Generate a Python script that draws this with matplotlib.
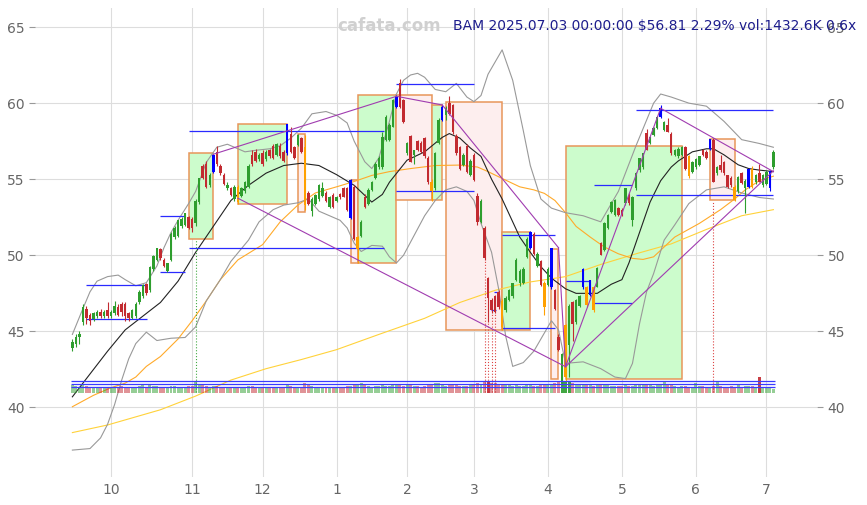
import numpy as np
import matplotlib
matplotlib.use('Agg')
import matplotlib.pyplot as plt
from matplotlib.patches import Rectangle

# BAM daily bars 2024-09-16 .. 2025-07-03, x axis = bar number
opens = [43.9, 44.2, 44.6, 45.6, 46.5, 46.1, 45.8, 46.0, 46.3, 46.0, 46.4,
         46.0, 46.2, 46.6, 46.8, 46.8, 46.2, 45.9, 46.0, 46.9, 47.3, 48.1, 47.7, 49.1, 49.7, 50.4, 49.7, 48.95, 49.7, 51.2, 51.3, 51.9, 52.0, 52.5,
         52.4, 52.1, 53.5, 55.9, 56.0, 54.6, 55.5, 56.8, 55.9, 55.3, 54.4, 54.4, 53.7, 54.5, 53.9, 54.2, 54.5, 56.6, 56.8, 56.3,
         56.7, 56.3, 56.9, 57.2, 56.6, 57.2, 56.8, 56.7, 58.0, 57.1, 57.25, 57.7, 57.1, 54.07, 52.9, 53.4, 53.7, 53.9, 54.07, 53.2, 53.96,
         53.6, 54.0, 54.4, 54.4, 52.45, 54.5, 50.4, 51.3, 53.85, 53.4, 54.3, 55.06, 55.8, 55.8, 57.6, 57.6, 58.45, 59.76, 61.3, 60.2,
         56.7, 57.85, 56.6, 57.5, 57.4, 57.7, 56.37, 54.84, 54.4, 57.4, 58.9, 59.2, 60.0, 59.88, 57.85, 57.1, 55.95, 57.2, 55.3,
         56.6, 53.9, 52.2, 51.77, 48.5, 47.06, 47.3, 47.6, 47.0, 46.4, 47.06, 47.3, 48.4, 48.16, 48.16, 49.9, 50.5, 51.4, 49.3, 49.6, 48.2,
         48.05, 47.9, 47.7, 44.65, 41.6, 42.0, 44.1, 46.95, 45.6, 46.7, 47.9, 47.94, 47.4, 47.94, 47.94, 50.8, 50.35, 51.77, 52.87, 52.65, 53.08,
         52.98, 53.41, 53.96, 52.32, 54.4, 55.6, 55.82, 58.01, 57.36, 57.9, 58.34, 59.1, 58.23, 58.56, 58.0, 56.6, 56.5, 56.6, 57.1, 56.5, 55.5,
         55.8, 55.93, 56.9, 56.8, 56.96, 57.6, 55.4, 55.93, 56.15, 55.28, 55.1, 54.5, 54.2, 55.39, 54.4, 54.5, 55.7, 54.8, 55.4, 54.6,
         54.7, 54.4, 55.8]
highs = [44.5, 44.8, 45.0, 46.8, 46.7, 46.2, 46.3, 46.4, 46.5, 46.4, 46.9,
         46.4, 47.0, 46.8, 46.9, 46.9, 46.3, 46.5, 46.9, 47.7, 48.1, 48.2, 49.3, 50.0, 50.5, 50.5, 49.8, 49.5, 51.5, 51.9, 52.3, 52.5, 52.8, 52.6,
         52.5, 53.7, 55.1, 56.0, 56.2, 55.4, 56.65, 57.2, 56.0, 55.4, 54.8, 54.5, 54.6, 54.6, 54.5, 54.9, 56.0, 56.9, 57.0, 56.7,
         56.9, 56.9, 57.0, 57.3, 57.4, 57.4, 56.9, 58.65, 58.4, 57.2, 58.0, 57.8, 57.9, 54.2, 53.8, 54.0, 54.7, 54.8, 54.2, 53.9, 54.1,
         53.9, 54.1, 54.5, 54.5, 55.0, 54.6, 51.3, 52.3, 54.0, 54.4, 54.9, 56.1, 56.5, 58.1, 59.2, 58.7, 60.3, 60.55, 61.6, 60.3,
         57.45, 57.9, 56.95, 57.6, 57.5, 57.8, 56.5, 55.0, 56.8, 59.0, 59.9, 59.8, 60.5, 59.95, 57.95, 57.2, 56.7, 57.3, 56.3,
         56.7, 54.1, 53.7, 51.9, 48.6, 47.2, 47.4, 47.7, 47.1, 47.3, 47.8, 48.2, 49.8, 49.1, 49.2, 51.2, 51.6, 51.5, 50.2, 49.7, 48.3,
         49.2, 50.5, 47.8, 44.8, 43.6, 45.5, 46.8, 47.0, 47.1, 47.4, 49.15, 48.0, 48.4, 48.0, 49.2, 50.9, 52.2, 52.7, 53.6, 53.7, 53.2,
         53.1, 54.45, 54.1, 53.9, 55.45, 56.4, 56.75, 58.3, 57.85, 58.4, 59.15, 59.85, 58.85, 59.0, 58.1, 57.0, 57.1, 57.2, 57.2, 56.6, 56.2,
         56.4, 56.55, 57.0, 56.9, 57.65, 57.7, 55.9, 56.6, 56.2, 55.3, 55.2, 54.6, 55.2, 55.5, 55.0, 55.75, 55.9, 55.35, 56.0, 55.35,
         55.6, 55.6, 56.9]
lows = [43.7, 44.0, 44.2, 45.4, 45.5, 45.4, 45.7, 45.9, 45.9, 45.9, 45.9,
        45.9, 46.1, 46.0, 46.0, 45.7, 45.7, 45.8, 45.9, 46.8, 47.2, 47.4, 47.6, 49.0, 49.6, 49.7, 49.2, 48.9, 49.6, 51.1, 51.2, 51.8, 51.9, 51.7,
        51.5, 51.9, 53.4, 55.0, 54.4, 54.5, 55.4, 55.9, 55.3, 54.6, 54.3, 53.9, 53.6, 53.4, 53.8, 54.1, 54.4, 55.9, 56.1, 56.2,
        55.9, 56.2, 56.4, 56.3, 56.5, 56.4, 56.1, 56.6, 56.7, 56.3, 57.2, 56.7, 53.0, 53.3, 52.6, 53.3, 53.6, 53.8, 53.5, 53.1, 53.1,
        53.5, 53.7, 53.8, 52.9, 52.4, 51.0, 49.5, 51.2, 53.1, 53.3, 54.2, 55.0, 55.7, 55.7, 57.5, 57.5, 58.4, 59.7, 59.7, 58.7,
        56.6, 56.1, 56.0, 56.85, 56.7, 56.4, 54.7, 53.6, 54.3, 57.3, 58.85, 58.9, 59.2, 58.0, 56.6, 55.6, 55.9, 55.4, 55.2,
        54.9, 52.0, 52.1, 49.7, 45.6, 46.2, 46.2, 46.5, 45.1, 46.3, 47.0, 47.2, 48.3, 48.0, 48.1, 49.8, 50.4, 50.0, 49.2, 48.0, 46.1,
        48.0, 47.8, 46.4, 43.7, 41.4, 41.7, 42.0, 44.4, 45.5, 46.6, 47.8, 46.6, 47.3, 46.3, 47.9, 50.0, 50.3, 51.7, 52.8, 52.6, 52.6,
        52.6, 53.3, 53.3, 51.9, 54.3, 55.5, 55.7, 56.9, 57.3, 57.85, 58.3, 59.0, 58.2, 58.1, 56.6, 56.5, 56.4, 56.5, 55.6, 55.1, 55.4,
        55.7, 55.9, 56.5, 56.3, 56.9, 54.8, 55.3, 55.5, 55.3, 54.4, 54.5, 53.6, 54.1, 54.7, 52.8, 54.4, 54.4, 54.7, 54.8, 54.5,
        54.6, 54.2, 55.7]
closes = [44.3, 44.6, 44.8, 46.6, 45.9, 45.7, 46.2, 46.3, 46.0, 46.3, 46.0,
          46.3, 46.7, 46.1, 46.3, 46.0, 45.9, 46.4, 46.8, 47.6, 48.05, 47.5, 49.25, 49.95, 50.45, 49.8, 49.3, 49.5, 51.4, 51.8, 52.3, 52.4, 52.75, 51.8,
          51.8, 53.6, 55.05, 55.1, 54.5, 55.3, 56.6, 56.0, 55.4, 54.7, 54.65, 53.95, 54.5, 53.5, 54.4, 54.85, 55.9, 56.0, 56.2, 56.6,
          56.0, 56.8, 56.5, 56.4, 57.3, 56.5, 56.2, 58.6, 56.8, 56.4, 57.9, 56.8, 53.3, 53.4, 53.7, 53.95, 54.6, 54.4, 53.6, 53.85, 53.2,
          53.8, 53.8, 53.85, 52.97, 54.95, 51.1, 51.2, 52.2, 53.2, 54.3, 54.84, 56.0, 56.37, 57.8, 59.1, 58.56, 60.2, 60.5, 59.76, 58.78,
          57.4, 56.15, 56.9, 56.92, 56.8, 56.5, 54.8, 54.2, 56.7, 58.9, 59.76, 59.7, 59.3, 58.1, 56.7, 55.7, 56.6, 55.5, 56.2,
          54.95, 52.2, 53.6, 49.8, 47.2, 46.4, 46.3, 46.6, 45.3, 47.2, 47.7, 48.16, 49.7, 49.0, 49.1, 51.1, 51.55, 50.1, 50.1, 48.05, 46.6,
          49.1, 50.46, 46.5, 43.8, 43.5, 45.4, 46.7, 45.5, 47.06, 47.3, 49.1, 46.74, 48.38, 46.4, 49.14, 50.02, 52.1, 52.65, 53.52, 53.63, 52.65,
          52.65, 54.4, 53.41, 53.85, 55.39, 56.37, 56.7, 56.92, 57.8, 58.34, 59.1, 59.66, 58.78, 58.12, 56.7, 56.9, 57.0, 57.1, 55.7, 55.2, 56.15,
          56.3, 56.5, 56.6, 56.4, 57.62, 54.85, 55.82, 55.6, 55.4, 54.5, 54.6, 53.65, 55.17, 54.73, 54.9, 55.7, 54.5, 55.3, 54.85, 55.3,
          55.5, 55.54, 56.81]
# volume in thousands
volumes = [3100, 2700, 2400, 3600, 2800, 2300, 2200, 2000, 2400, 2100, 2600,
           2300, 2500, 2200, 2700, 2400, 2100, 2000, 2500, 2800, 3100, 2400, 3300, 2900, 2700, 2400, 2200, 2300, 3000, 2800, 2600, 2400, 2500, 2700,
           2900, 4700, 3800, 3200, 3000, 2500, 2800, 2700, 2400, 2300, 2200, 2500, 2400, 2600, 2300, 2500, 2900, 2700, 2500, 2300,
           2400, 2200, 2100, 2300, 2200, 2500, 2300, 3100, 2800, 2400, 2200, 2500, 4000, 3300, 2900, 2300, 2100, 2000, 1900, 2400, 2200,
           2300, 2400, 2600, 2800, 2900, 3500, 3300, 4200, 3100, 2800, 2600, 2900, 2800, 3100, 3000, 2700, 3200, 3700, 3400, 3000,
           3300, 3100, 2900, 2700, 2600, 2800, 3100, 3500, 4300, 3900, 3400, 3000, 3200, 3300, 3100, 2900, 3000, 2800, 3200,
           3400, 4000, 3300, 4700, 5000, 4300, 4000, 3700, 3500, 3200, 3100, 2900, 3300, 3000, 2800, 3100, 3400, 3000, 2900, 3100, 3600,
           3200, 3500, 4100, 4600, 4900, 4800, 5000, 4100, 3500, 3300, 3200, 3100, 3400, 3000, 3100, 3500, 3300, 3100, 2900, 2800, 2700,
           3000, 3100, 2800, 2900, 3300, 3500, 3400, 3800, 3200, 3000, 3100, 3300, 4400, 3200, 3100, 2800, 2600, 2700, 2900, 2500, 2600,
           4000, 2800, 2700, 2500, 2600, 3000, 4400, 2800, 2600, 2500, 2700, 2400, 3100, 2600, 2800, 2900, 2700, 2500, 6700, 2600,
           2400, 2200, 1433]
avg_vol = 2388
blue_bars = [40, 61, 79, 92, 105, 130, 136, 145, 147, 167, 181, 192, 198]
orange_bars = [47, 66, 81, 102, 122, 134, 140, 146, 148, 175, 188, 193]

month_ticks = [11, 34, 54, 75, 95, 114, 135, 156, 177, 197]
month_labels = ['10', '11', '12', '1', '2', '3', '4', '5', '6', '7']

# indicator lines
ma20_x = [0, 5, 10, 15, 20, 25, 30, 35, 40, 45, 50, 55, 60, 65, 70, 75, 80, 85, 88, 90, 95, 100, 105, 107, 110, 113, 116, 119, 122, 125,
          127, 130, 133, 136, 140, 143, 149, 153, 156, 158, 161, 164, 167, 170, 172, 176, 180, 182, 185, 189, 192, 195, 199]
ma20_y = [40.7, 42.2, 43.7, 45.1, 46.0, 46.9, 48.3, 50.2, 51.9, 53.6, 54.6, 55.4, 55.9, 56.05, 55.9, 55.3, 54.6, 53.5, 54.0, 54.8,
          56.25, 56.8, 57.75, 58.0, 57.7, 57.05, 56.5, 55.0, 53.7, 52.2, 51.2, 50.2, 49.25, 48.5, 47.8, 47.5, 47.5, 48.1, 48.4, 49.5,
          51.5, 53.5, 54.9, 55.8, 56.2, 56.8, 57.0, 57.0, 56.6, 55.95, 55.7, 55.6, 55.5]
bb_up_x = [0, 3, 5, 7, 10, 13, 15, 18, 21, 24, 26, 28, 30, 33, 35, 38, 41, 44, 46, 49, 52, 56, 59, 62, 65, 68, 72, 75, 78, 80,
           83, 85, 87, 90, 92, 94, 96, 98, 100, 103, 106, 109, 112, 114, 116, 118, 120, 122, 125, 128, 130, 133, 136, 140, 145, 150,
           155, 160, 165, 167, 170, 175, 180, 185, 190, 195, 199]
bb_up_y = [44.8, 46.5, 47.6, 48.3, 48.6, 48.7, 48.4, 48.0, 48.2, 49.3, 50.5, 51.5, 52.3, 53.4, 54.2, 56.1, 57.1, 57.3, 57.1, 56.8,
           56.9, 57.0, 57.2, 57.7, 58.35, 59.3, 59.45, 59.2, 58.7, 57.5, 56.15, 55.7, 56.4, 58.8, 60.6, 61.5, 61.85, 61.96, 61.7, 60.9,
           60.75, 61.3, 60.4, 60.1, 60.5, 61.9, 62.7, 63.5, 61.5, 58.2, 55.9, 53.7, 53.1, 52.8, 52.6, 52.2, 54.2, 57.2, 60.0, 60.6,
           60.4, 60.0, 59.8, 58.8, 57.6, 57.35, 57.1]
bb_lo_x = [0, 5, 8, 10, 12, 14, 16, 18, 21, 24, 28, 32, 35, 38, 42, 45, 50, 53, 57, 60, 64, 67, 70, 73, 76, 78, 80, 82, 85, 88,
           90, 92, 94, 97, 100, 103, 106, 109, 112, 114, 116, 119, 121, 123, 125, 128, 131, 133, 136, 138, 140, 145, 150, 154, 157, 159,
           161, 163, 165, 168, 171, 175, 180, 185, 190, 195, 199]
bb_lo_y = [37.2, 37.3, 38.0, 38.9, 40.2, 41.8, 43.2, 44.2, 44.95, 44.4, 44.55, 44.6, 45.3, 47.0, 48.4, 49.6, 51.0, 52.2, 53.0, 53.3,
           53.45, 53.7, 52.9, 52.6, 52.3, 51.8, 50.8, 50.25, 50.65, 50.6, 49.9, 49.5, 50.0, 51.3, 52.6, 53.6, 54.3, 54.5, 54.2, 53.6,
           52.1, 50.2, 47.8, 44.7, 42.7, 42.95, 43.7, 44.5, 45.7, 45.1, 42.9, 43.0, 42.55, 42.0, 41.9, 42.9, 45.5, 47.6, 48.8, 51.0,
           52.0, 53.4, 54.3, 54.5, 54.1, 53.8, 53.7]
ma60_x = [0, 6, 11, 15, 18, 21, 25, 30, 34, 38, 42, 47, 54, 59, 64, 69, 75, 80, 85, 90, 96, 103, 110, 115, 118, 122, 127, 131, 134, 137,
          140, 143, 147, 151, 155, 159, 162, 165, 168, 171, 178, 184, 188, 191, 195, 199]
ma60_y = [40.05, 40.8, 41.3, 41.6, 42.0, 42.7, 43.35, 44.5, 45.7, 47.0, 48.4, 49.7, 50.7, 52.2, 53.3, 54.1, 54.5, 54.85, 55.25, 55.5,
          55.7, 55.9, 55.93, 55.8, 55.5, 55.05, 54.5, 54.3, 54.07, 53.6, 52.8, 51.9, 51.2, 50.55, 50.1, 49.8, 49.73, 49.9, 50.55, 51.2,
          52.1, 53.0, 53.7, 54.3, 54.9, 55.2]
ma200_x = [0, 10, 25, 35, 45, 55, 65, 75, 87, 100, 110, 120, 130, 140, 150, 160, 170, 180, 190, 199]
ma200_y = [38.35, 38.85, 39.85, 40.75, 41.8, 42.55, 43.15, 43.8, 44.8, 45.86, 46.9, 47.7, 48.25, 48.6, 49.4, 50.1, 50.75, 51.7, 52.6, 53.0]

# trend boxes
box_start = [33, 47, 64, 79, 81, 92, 102, 106, 122, 136, 140, 181]
box_end = [40, 61, 66, 81, 92, 102, 105, 122, 130, 138, 173, 188]
box_low = [51.1, 53.35, 52.86, 49.47, 49.47, 53.63, 53.63, 45.1, 45.1, 41.9, 41.87, 53.63]
box_high = [56.7, 58.6, 58.0, 54.95, 60.53, 60.53, 59.9, 60.05, 51.55, 50.4, 57.16, 57.62]
box_up = [True, True, False, False, True, False, True, False, True, False, True, False]

# support / resistance segments
level_start = [4, 4, 25, 25, 33, 33, 92, 92, 119.8, 118.8, 122, 122, 140, 140, 148, 148, 160, 160]
level_end = [21.3, 21.3, 32, 32, 88.5, 88.5, 114, 114, 121.2, 120.2, 137, 137, 147, 147, 159, 159, 199, 199]
level_value = [45.8, 48.05, 52.6, 48.9, 58.15, 50.45, 61.25, 54.25, 47.6, 46.4, 51.35, 45.2, 48.3, 41.75, 46.85, 54.6, 59.55, 53.95]

# dotted signal markers
mark_bar = [35, 117, 118, 119, 120, 182]
mark_top = [51.1, 49.6, 45.6, 46.2, 46.2, 53.6]
mark_green = [True, False, False, False, False, False]

# trend lines
tl_x0 = [40, 92, 105, 138, 47, 140, 140, 167]
tl_y0 = [56.64, 60.45, 59.88, 50.5, 53.75, 42.68, 42.68, 59.66]
tl_x1 = [92, 105, 138, 140, 140, 167, 199, 199]
tl_y1 = [60.45, 59.88, 50.5, 42.68, 42.68, 59.66, 55.55, 55.5]

GREEN = '#2e9e2e'
RED = '#c22a30'
BLUE = '#0000ff'
ORANGE = '#ffa000'


def draw_candles(ax):
    idx = np.arange(len(closes))
    o = np.array(opens)
    c = np.array(closes)
    colors = np.where(c >= o, GREEN, RED).astype(object)
    colors[blue_bars] = BLUE
    colors[orange_bars] = ORANGE
    ax.vlines(idx, lows, highs, colors=list(colors), lw=0.8, zorder=4)
    body_lo = np.minimum(o, c)
    body_h = np.maximum(np.abs(c - o), 0.08)
    ax.bar(idx, body_h, bottom=body_lo, width=0.7, color=list(colors), lw=0, zorder=4)


def draw_volume(ax2):
    idx = np.arange(len(volumes))
    up = np.array(closes) >= np.array(opens)
    vol = np.array(volumes)
    colors = []
    for u, v in zip(up, vol):
        base = (0.18, 0.62, 0.18) if u else (0.76, 0.16, 0.19)
        colors.append(base + ((0.9,) if v > 2 * avg_vol else (0.5,)))
    ax2.bar(idx, vol, width=0.85, color=colors, lw=0)
    for k in [1.0, 1.5, 2.0]:
        ax2.hlines(avg_vol * k, -0.5, len(vol) - 0.5, colors='#3a3aff', lw=0.9)
    # base of the volume band sits at ~41 on the price scale
    ax2.set_ylim(-0.1797 * 196980, 196980 * (1 - 0.1797))
    ax2.set_yticks([])
    for s in ax2.spines.values():
        s.set_visible(False)


fig = plt.figure(figsize=(8.67, 5.05), dpi=100)
ax = fig.add_axes([0.0404, 0.0554, 0.902, 0.9287])
ax.set_xlim(-10.6, 211.4)
ax.set_ylim(35.43, 66.25)

for x0, x1, lo, hi, up in zip(box_start, box_end, box_low, box_high, box_up):
    ax.add_patch(Rectangle((x0, lo), x1 - x0, hi - lo, facecolor='#ccfccc' if up else '#fdeeee',
                           edgecolor='#e8965a', lw=1.1, zorder=1))

ax.plot(ma200_x, ma200_y, color='#ffd23a', lw=0.8, zorder=2)
ax.plot(ma60_x, ma60_y, color='#ffaa2a', lw=0.8, zorder=2)
ax.plot(bb_up_x, bb_up_y, color='#999999', lw=0.8, zorder=2)
ax.plot(bb_lo_x, bb_lo_y, color='#999999', lw=0.8, zorder=2)
ax.plot(ma20_x, ma20_y, color='#222222', lw=0.8, zorder=2)

ax.hlines(level_value, level_start, level_end, colors='#2a2aff', lw=0.9, zorder=3)

for b, top, g in zip(mark_bar, mark_top, mark_green):
    ax.vlines(b, 41.0, top, colors='#44aa44' if g else '#dd4444', linestyles=':', lw=0.8, zorder=3)

draw_candles(ax)

for x0, y0, x1, y1 in zip(tl_x0, tl_y0, tl_x1, tl_y1):
    ax.plot([x0, x1], [y0, y1], color='#a03cb0', lw=0.8, zorder=5)

ax2 = ax.twinx()
draw_volume(ax2)

ax.set_xticks(month_ticks)
ax.set_xticklabels(month_labels)
ax.set_yticks([40, 45, 50, 55, 60, 65])
ax.grid(True, color='#dddddd', lw=0.8)
ax.set_axisbelow(True)
for s in ax.spines.values():
    s.set_visible(False)
ax.tick_params(axis='both', colors='#999999', labelcolor='#666666', labelsize=10, length=4)
ax.tick_params(axis='x', length=0, pad=4)
ax.tick_params(axis='y', right=True, labelright=True, left=True, labelleft=True)

fig.text(0.4487, 0.9485, 'cafata.com', ha='center', va='center', color='#d0d0d0',
         fontsize=12, fontweight='bold')
fig.text(0.988, 0.9485, 'BAM 2025.07.03 00:00:00 $56.81 2.29% vol:1432.6K 0.6x',
         ha='right', va='center', color='#1c1c8c', fontsize=10)

fig.savefig('out.png', dpi=100)
